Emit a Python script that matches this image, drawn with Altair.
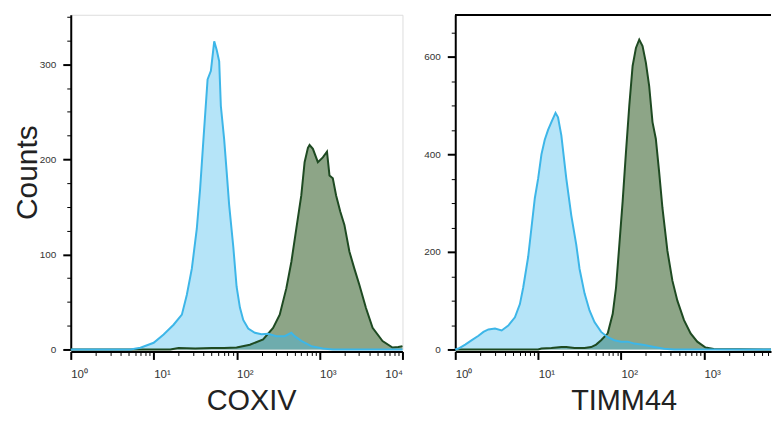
import altair as alt
import pandas as pd

# ---------------- data (log10 fluorescence, counts) ----------------
COX_CTRL_LOG = [0.0, 0.72, 0.84, 1.00, 1.12, 1.24, 1.34, 1.40, 1.46, 1.52, 1.56, 1.60, 1.65, 1.69,
                1.73, 1.76, 1.79, 1.81, 1.85, 1.88, 1.91, 1.96, 2.00, 2.04, 2.08, 2.14, 2.22, 2.30,
                2.38, 2.48, 2.58, 2.66, 2.70, 2.78, 2.90, 3.04, 3.16, 4.0]
COX_CTRL_CNT = [0, 0, 1.8, 7, 15.7, 26, 36.6, 57.5, 85, 127, 169, 221, 284, 293,
                324, 315, 303, 256, 221, 187, 152, 108, 66, 44, 31, 22, 17.5, 16,
                16.5, 14, 14, 17.5, 14, 9, 3.5, 1, 0, 0]

COX_AB_LOG = [0.0, 1.20, 1.30, 1.50, 1.70, 1.85, 2.00, 2.16, 2.32, 2.44, 2.52, 2.60, 2.66, 2.72,
              2.78, 2.82, 2.86, 2.88, 2.92, 2.98, 3.04, 3.09, 3.12, 3.16, 3.20, 3.25, 3.30, 3.36,
              3.42, 3.48, 3.56, 3.64, 3.76, 3.88, 3.95, 4.0]
COX_AB_CNT = [0, 0, 1.5, 1, 1.5, 1.5, 2, 5, 10.5, 22.7, 36.6, 64.5, 92, 127,
              162, 197, 212, 215, 211, 197, 202, 208, 183, 180, 162, 145, 131, 103,
              85, 68, 43.6, 22.7, 8.8, 2, 2.5, 3.5]

TIM_CTRL_LOG = [0.0, 0.04, 0.12, 0.20, 0.28, 0.34, 0.40, 0.48, 0.56, 0.64, 0.72, 0.78, 0.82, 0.88,
                0.92, 0.96, 1.00, 1.04, 1.08, 1.12, 1.16, 1.21, 1.24, 1.28, 1.34, 1.40, 1.46, 1.50,
                1.56, 1.62, 1.68, 1.76, 1.84, 1.92, 2.00, 2.08, 2.16, 2.28, 2.40, 2.52, 2.64, 3.81]
TIM_CTRL_CNT = [0, 2, 10, 19, 28, 36, 41, 43, 39, 49, 66, 93, 127, 190,
                250, 310, 350, 400, 430, 450, 466, 485, 476, 439, 350, 275, 215, 165,
                115, 80, 56, 36, 25, 19, 16, 16, 12, 9, 5, 1.4, 0, 0]

TIM_AB_LOG = [0.0, 1.00, 1.04, 1.16, 1.28, 1.34, 1.44, 1.56, 1.64, 1.70, 1.76, 1.84, 1.90, 1.94,
              1.98, 2.02, 2.06, 2.10, 2.14, 2.18, 2.22, 2.26, 2.30, 2.34, 2.38, 2.42, 2.46, 2.50,
              2.56, 2.62, 2.68, 2.76, 2.84, 2.92, 3.02, 3.12, 3.81]
TIM_AB_CNT = [0, 0, 2, 3, 5, 5, 3, 3, 5, 10, 19, 33, 73, 127,
              215, 304, 405, 500, 581, 618, 635, 622, 588, 540, 466, 432, 364, 290,
              202, 141, 100, 60, 33, 16, 4, 1, 0]

X_MAJOR = [1, 10, 100, 1000, 10000]
X_SUPERSCRIPTS = ["⁰", "¹", "²", "³", "⁴"]
X_TICKS = X_MAJOR + [m * d for d in [1, 10, 100, 1000] for m in range(2, 10)]
COX_YTICKS = list(range(0, 351, 25))
TIM_YTICKS = list(range(0, 651, 50))

GREEN_FILL = "#8DA587"
GREEN_LINE = "#1E4A22"
BLUE_FILL = "#3DB8EC"
BLUE_LINE = "#3DB6E8"
FONT = "Liberation Sans"

PLOT_H = 336

major_test = "indexof(" + str(X_MAJOR) + ", datum.value) >= 0"
sup_list = "[" + ",".join("'" + s + "'" for s in X_SUPERSCRIPTS) + "]"
x_label_expr = (major_test + " ? '10' + " + sup_list + "[indexof(" + str(X_MAJOR)
                + ", datum.value)] : ''")


def panel(ctrl_log, ctrl_cnt, ab_log, ab_cnt, xmax, width, ymax, yticks, ystep,
          xtitle, xtitle_x, ytitle, full_frame):
    ctrl = pd.DataFrame({"x": [10 ** v for v in ctrl_log], "count": ctrl_cnt})
    ab = pd.DataFrame({"x": [10 ** v for v in ab_log], "count": ab_cnt})
    ytest = f"datum.value % {ystep} == 0"
    xticks = [t for t in X_TICKS if t <= xmax]
    xaxis = alt.Axis(
        values=xticks, labelExpr=x_label_expr, labelOverlap=False, labelFlush=False,
        labelAlign={"condition": {"test": "datum.value == 10000", "value": "right"},
                    "value": "left"},
        labelFontSize=11.5, labelColor="#333", labelPadding=9,
        tickColor="black", domainColor="black", domainWidth=2, offset=2, grid=False,
        tickSize={"condition": {"test": major_test, "value": 8}, "value": 4},
        tickWidth={"condition": {"test": major_test, "value": 2}, "value": 1},
        title=xtitle, titleFontSize=29, titleFontWeight="normal", titleColor="#222",
        titleBaseline="alphabetic", titleY=58, titleX=xtitle_x,
    )
    yopts = dict(
        values=yticks, labelExpr=f"{ytest} ? datum.label : ''", labelOverlap=False,
        labelFontSize=10, labelColor="#333", labelPadding=7, grid=False,
        tickColor="black", domainColor="black", domainWidth=2,
        tickSize={"condition": {"test": ytest, "value": 8}, "value": 4},
        tickWidth={"condition": {"test": ytest, "value": 2}, "value": 1},
    )
    if ytitle:
        yaxis = alt.Axis(title=ytitle, titleFontSize=30, titleFontWeight="normal",
                         titleColor="#222", titleBaseline="alphabetic", titleX=-34,
                         titleY=158, **yopts)
    else:
        yaxis = alt.Axis(title=None, **yopts)
    x = alt.X("x:Q", scale=alt.Scale(type="log", domain=[1, xmax], nice=False), axis=xaxis)
    y = alt.Y("count:Q", scale=alt.Scale(domain=[0, ymax], nice=False, zero=True), axis=yaxis)
    layers = [
        alt.Chart(ab).mark_area(color=GREEN_FILL, opacity=1),
        alt.Chart(ctrl).mark_area(color=BLUE_FILL, opacity=0.38),
        alt.Chart(ab).mark_line(color=GREEN_LINE, strokeWidth=2),
        alt.Chart(ctrl).mark_line(color=BLUE_LINE, strokeWidth=2),
    ]
    layers = [l.encode(x=x, y=y) for l in layers]
    if not full_frame:
        # top border only (the frame runs off the right edge in the original)
        layers.append(alt.Chart(ab).mark_rule(color="black", strokeWidth=1).encode(
            x=alt.value(0), x2=alt.value(width), y=alt.value(0.5)))
    ch = alt.layer(*layers).properties(width=width, height=PLOT_H)
    if not full_frame:
        ch = ch.properties(view=alt.ViewBackground(stroke=None))
    return ch


left = panel(COX_CTRL_LOG, COX_CTRL_CNT, COX_AB_LOG, COX_AB_CNT, 10000, 333, 352,
             COX_YTICKS, 100, "COXIV", 181, "Counts", True)
right = panel(TIM_CTRL_LOG, TIM_CTRL_CNT, TIM_AB_LOG, TIM_AB_CNT, 10 ** 3.81, 317, 686,
              TIM_YTICKS, 200, "TIMM44", 169, None, False)

chart = alt.hconcat(left, right, spacing=16).properties(
    padding={"left": 4, "top": 2, "right": 0, "bottom": 0}
).configure_view(stroke="black", strokeWidth=1).configure_axis(
    labelFont=FONT, titleFont=FONT
).configure(background="white")

chart.save("out.html", embed_options={"renderer": "svg", "actions": False})
